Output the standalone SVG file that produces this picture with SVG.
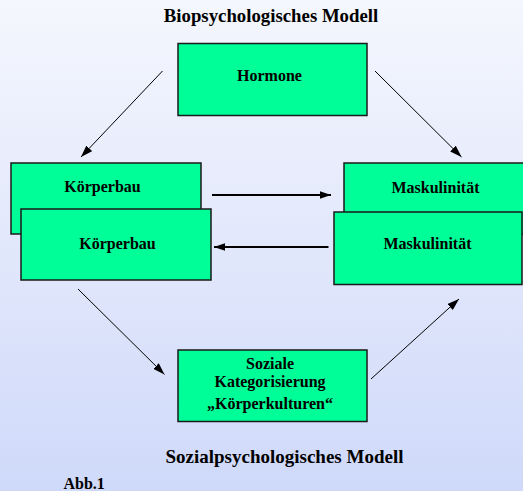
<svg xmlns="http://www.w3.org/2000/svg" width="523" height="491" viewBox="0 0 523 491">
<defs>
<linearGradient id="bg" x1="0" y1="0" x2="0" y2="1">
<stop offset="0" stop-color="#f5f7fe"/>
<stop offset="1" stop-color="#cfd9f9"/>
</linearGradient>
<marker id="ah" viewBox="0 0 12 8" refX="12" refY="4" markerWidth="12" markerHeight="8" markerUnits="userSpaceOnUse" orient="auto">
<path d="M0,0 L12,4 L0,8 Z" fill="#000"/>
</marker>
<marker id="ahs" viewBox="0 0 12 8" refX="12" refY="4" markerWidth="11" markerHeight="8" markerUnits="userSpaceOnUse" orient="auto">
<path d="M0,0 L12,4 L0,8 Z" fill="#000"/>
</marker>
</defs>
<style>
.box{fill:#00fe98;stroke:#1a1a1a;stroke-width:1.5}
.t{font-family:"Liberation Serif","Times New Roman",serif;font-weight:bold;fill:#000;text-anchor:middle}
.n{font-size:16px}
.d{stroke:#000;stroke-width:1;fill:none;marker-end:url(#ah)}
.h{stroke:#000;stroke-width:2;fill:none;marker-end:url(#ahs)}
</style>
<rect width="523" height="491" fill="url(#bg)"/>
<text class="t" x="271" y="22" font-size="18.8">Biopsychologisches Modell</text>
<text class="t" x="284.5" y="463" font-size="19">Sozialpsychologisches Modell</text>
<text class="t" x="63.5" y="488.5" font-size="16" style="text-anchor:start">Abb.1</text>
<g id="hormone">
<rect class="box" x="178" y="43.5" width="189" height="72"/>
<text class="t n" x="269.5" y="81">Hormone</text>
</g>
<g id="koerperbau1">
<rect class="box" x="11" y="163" width="190" height="71"/>
<text class="t n" x="102.5" y="191.5">Körperbau</text>
</g>
<g id="koerperbau2">
<rect class="box" x="21" y="209" width="190" height="71"/>
<text class="t n" x="117.5" y="249">Körperbau</text>
</g>
<g id="maskulinitaet1">
<rect class="box" x="344" y="163" width="181" height="71"/>
<text class="t n" x="435.5" y="193">Maskulinität</text>
</g>
<g id="maskulinitaet2">
<rect class="box" x="334" y="212" width="188" height="72.5"/>
<text class="t n" x="427.5" y="249">Maskulinität</text>
</g>
<g id="soziale">
<rect class="box" x="178" y="350" width="189" height="71.5"/>
<text class="t n" x="270" y="369">Soziale</text>
<text class="t n" x="270" y="387">Kategorisierung</text>
<text class="t n" x="270" y="408.5">„Körperkulturen“</text>
</g>
<g id="connectors">
<line class="d" x1="162.5" y1="71" x2="81" y2="157"/>
<line class="d" x1="375" y1="71" x2="461.5" y2="157"/>
<line class="h" x1="212" y1="195" x2="331" y2="195"/>
<line class="h" x1="328.5" y1="247" x2="214" y2="247"/>
<line class="d" x1="78" y1="289" x2="164.5" y2="374.5"/>
<line class="d" x1="371" y1="379" x2="459" y2="299"/>
</g>
</svg>
